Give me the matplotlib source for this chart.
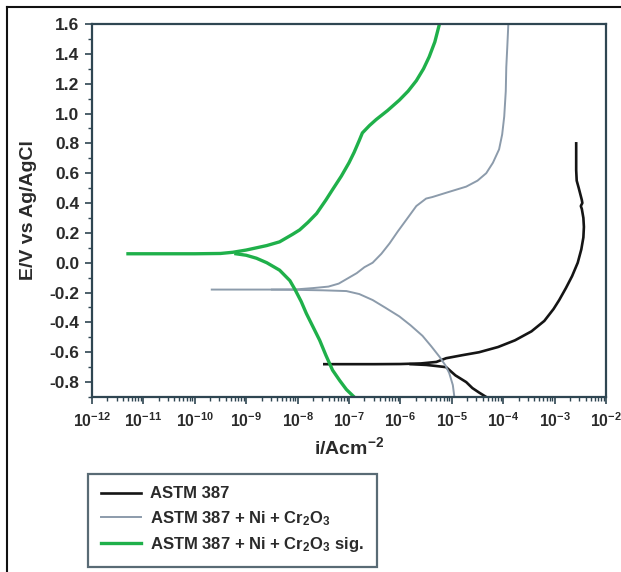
import matplotlib
matplotlib.use('Agg')
import matplotlib.pyplot as plt
import numpy as np
from matplotlib.lines import Line2D
from matplotlib.ticker import LogLocator, MultipleLocator, NullFormatter

# ASTM 387 (log10 i, E)
astm_anod_logi = [-7.48, -7.0, -6.5, -6.0, -5.6, -5.3, -5.11, -4.8, -4.47, -4.1, -3.77, -3.45,
                  -3.2, -3.02, -2.91, -2.78, -2.66, -2.55, -2.48, -2.44, -2.43, -2.44, -2.47,
                  -2.49, -2.46, -2.47, -2.53, -2.57, -2.58, -2.58]
astm_anod_E = [-0.68, -0.68, -0.68, -0.679, -0.675, -0.665, -0.64, -0.62, -0.60, -0.565, -0.52, -0.46,
               -0.39, -0.31, -0.25, -0.17, -0.09, 0.0, 0.09, 0.17, 0.24, 0.30, 0.36,
               0.38, 0.40, 0.42, 0.50, 0.55, 0.62, 0.80]
astm_cath_logi = [-5.8, -5.5, -5.31, -5.11, -4.93, -4.72, -4.6, -4.47, -4.33]
astm_cath_E = [-0.68, -0.685, -0.692, -0.70, -0.755, -0.80, -0.84, -0.87, -0.90]

# ASTM 387 + Ni + Cr2O3
ni_anod_logi = [-9.67, -9.0, -8.5, -8.0, -7.7, -7.4, -7.2, -7.05, -6.85, -6.7, -6.54, -6.37,
                -6.21, -6.05, -5.88, -5.69, -5.5, -5.38, -5.1, -4.72, -4.5, -4.33, -4.2,
                -4.08, -4.02, -3.98, -3.95, -3.94, -3.92, -3.9]
ni_anod_E = [-0.18, -0.18, -0.18, -0.178, -0.17, -0.16, -0.14, -0.11, -0.07, -0.03, 0.0, 0.06,
             0.13, 0.21, 0.29, 0.38, 0.43, 0.44, 0.47, 0.51, 0.55, 0.60, 0.67,
             0.76, 0.86, 0.98, 1.15, 1.31, 1.45, 1.60]
ni_cath_logi = [-8.5, -8.0, -7.5, -7.05, -6.8, -6.54, -6.3, -6.02, -5.8, -5.57, -5.4, -5.24,
                -5.12, -5.05, -4.98, -4.95]
ni_cath_E = [-0.18, -0.182, -0.185, -0.19, -0.21, -0.25, -0.30, -0.36, -0.42, -0.49, -0.56, -0.63,
             -0.69, -0.74, -0.82, -0.90]

# ASTM 387 + Ni + Cr2O3 sig.
sig_anod_logi = [-11.3, -10.5, -10.0, -9.5, -9.26, -9.0, -8.8, -8.6, -8.35, -8.1, -7.96, -7.8,
                 -7.63, -7.45, -7.32, -7.15, -7.0, -6.9, -6.8, -6.74, -6.6, -6.47, -6.25,
                 -6.02, -5.85, -5.69, -5.55, -5.44, -5.33, -5.24]
sig_anod_E = [0.06, 0.06, 0.06, 0.062, 0.07, 0.085, 0.10, 0.115, 0.14, 0.19, 0.22, 0.27,
              0.33, 0.42, 0.49, 0.58, 0.67, 0.74, 0.82, 0.87, 0.92, 0.96, 1.02,
              1.09, 1.15, 1.22, 1.30, 1.38, 1.48, 1.60]
sig_cath_logi = [-9.2, -9.0, -8.8, -8.6, -8.35, -8.15, -8.05, -7.93, -7.83, -7.7, -7.57, -7.45,
                 -7.32, -7.18, -7.05, -6.9]
sig_cath_E = [0.06, 0.05, 0.03, 0.0, -0.05, -0.12, -0.18, -0.26, -0.34, -0.43, -0.52, -0.62,
              -0.72, -0.79, -0.85, -0.90]

labels = ['ASTM 387', 'ASTM 387 + Ni + Cr$_2$O$_3$', 'ASTM 387 + Ni + Cr$_2$O$_3$ sig.']

plt.rcParams['font.family'] = ['Liberation Sans', 'DejaVu Sans']
plt.rcParams['font.weight'] = 'bold'
plt.rcParams['axes.labelweight'] = 'bold'
plt.rcParams['mathtext.fontset'] = 'custom'
plt.rcParams['mathtext.rm'] = 'Liberation Sans:bold'
plt.rcParams['mathtext.it'] = 'Liberation Sans:bold'
plt.rcParams['mathtext.bf'] = 'Liberation Sans:bold'

spine_c = '#2f4652'
txt_c = '#2a2a2a'
c_black = '#151515'
c_grey = '#8c9bab'
c_green = '#1fb04a'

fig = plt.figure(figsize=(6.21, 5.72), dpi=100)
ax = fig.add_axes([92/621, 1-397/572, 514/621, 373/572])

ax.plot(10**np.array(astm_anod_logi), astm_anod_E, color=c_black, lw=1.9, label=labels[0])
ax.plot(10**np.array(astm_cath_logi), astm_cath_E, color=c_black, lw=1.9)
ax.plot(10**np.array(ni_anod_logi), ni_anod_E, color=c_grey, lw=1.4, label=labels[1])
ax.plot(10**np.array(ni_cath_logi), ni_cath_E, color=c_grey, lw=1.4)
ax.plot(10**np.array(sig_anod_logi), sig_anod_E, color=c_green, lw=2.4, label=labels[2])
ax.plot(10**np.array(sig_cath_logi), sig_cath_E, color=c_green, lw=2.4)

ax.set_xscale('log')
ax.set_xlim(1e-12, 1e-2)
ax.set_ylim(-0.9, 1.6)
ax.xaxis.set_major_locator(LogLocator(base=10, numticks=20))
ax.xaxis.set_minor_locator(LogLocator(base=10, subs=np.arange(2, 10), numticks=20))
ax.xaxis.set_minor_formatter(NullFormatter())
ax.yaxis.set_major_locator(MultipleLocator(0.2))
ax.yaxis.set_minor_locator(MultipleLocator(0.1))
ax.yaxis.set_major_formatter(plt.FuncFormatter(lambda v, p: '%.1f' % v))

for s in ax.spines.values():
    s.set_color(spine_c)
    s.set_linewidth(1.6)
ax.tick_params(which='major', direction='out', length=5, width=1.2, color=spine_c,
               labelcolor=txt_c, pad=4)
ax.tick_params(axis='y', which='major', labelsize=12.5)
ax.tick_params(axis='x', which='major', labelsize=11.3, pad=5)
ax.tick_params(which='minor', direction='out', length=3, width=1.0, color=spine_c)

ax.set_xlabel('i/Acm$^{-2}$', fontsize=14, color=txt_c, labelpad=5)
ax.set_ylabel('E/V vs Ag/AgCl', fontsize=14, color=txt_c, labelpad=9)

leg = fig.legend(loc='upper left', bbox_to_anchor=(88/621, 1-474/572), fontsize=12,
                 frameon=True, fancybox=False, borderaxespad=0, handlelength=2.45,
                 labelspacing=0.45, borderpad=0.75, handletextpad=0.55)
leg.get_frame().set_edgecolor(spine_c)
leg.get_frame().set_linewidth(1.6)
for t in leg.get_texts():
    t.set_color(txt_c)

# outer frame (left and top)
fig.add_artist(Line2D([7/621, 7/621], [0, 1-7/572], color='#111111', lw=1.5))
fig.add_artist(Line2D([7/621, 1], [1-7/572, 1-7/572], color='#111111', lw=1.5))

fig.savefig('out.png', dpi=100)
